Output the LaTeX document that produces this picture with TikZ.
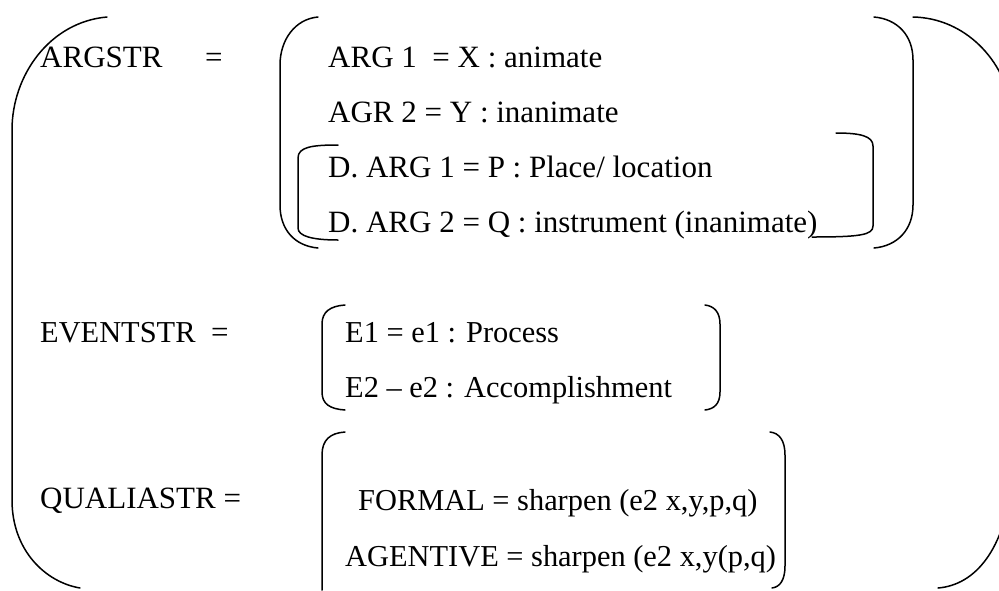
\documentclass[tikz,border=0pt]{standalone}
\usepackage{fontspec}
\setmainfont{Liberation Serif}
\begin{document}
\begin{tikzpicture}[x=1pt,y=-1pt,
  txt/.style={anchor=base west,inner sep=0pt,font=\fontsize{31}{36}\selectfont},
  txtev/.style={anchor=base west,inner sep=0pt,font=\fontsize{30.4}{36}\selectfont},
  brk/.style={line width=1.5pt,line cap=round}]
\useasboundingbox (0,0) rectangle (999,590);
% texts
\node[txt] (argstr) at (40,67) {ARGSTR};
\node[txt] (eq1) at (205,67) {=};
\node[txt] (a1) at (328,67) {ARG 1~~= X : animate};
\node[txt] (a2) at (328,122) {AGR 2 = Y : inanimate};
\node[txt] (d1) at (328,177) {D. ARG 1 = P : Place/ location};
\node[txt] (d2) at (328,232) {D. ARG 2 = Q : instrument (inanimate)};
\node[txtev] (evstr) at (40,342) {EVENTSTR};
\node[txt] (eq2) at (211,342) {=};
\node[txtev] (e1) at (345,342) {E1 = e1 : Process};
\node[txtev] (e2) at (345,397) {E2 – e2 : Accomplishment};
\node[txt] (qstr) at (40,508) {QUALIASTR =};
\node[txtev] (f1) at (358,510) {FORMAL = sharpen (e2 x,y,p,q)};
\node[txtev] (f2) at (345,566) {AGENTIVE = sharpen (e2 x,y(p,q)};
% outer bracket
\begin{scope}
\clip (0,0) rectangle (999,590);
\draw[brk] (107,17) .. controls (50,22) and (12,75) .. (12,130) -- (12,500)
  .. controls (12,550) and (45,582) .. (80,588);
\draw[brk] (913,17) .. controls (965,18) and (1005,60) .. (1012,110) -- (1012,480)
  .. controls (1005,550) and (975,585) .. (938,588);
\end{scope}
% ARGSTR inner bracket
\draw[brk] (318,17) .. controls (295,19) and (280,40) .. (280,65) -- (280,205)
  .. controls (280,230) and (295,246) .. (318,248);
\draw[brk] (874,17) .. controls (897,19) and (913,35) .. (913,60) -- (913,205)
  .. controls (913,230) and (897,246) .. (874,248);
% D.ARG bracket
\draw[brk] (338,145) .. controls (312,145) and (298,147) .. (298,158) -- (298,228)
  .. controls (298,236) and (312,240) .. (338,240);
\draw[brk] (836,133) .. controls (860,133) and (873,136) .. (873,146) -- (873,226)
  .. controls (873,235) and (860,237) .. (812,237);
% EVENT bracket
\draw[brk] (345,305) .. controls (330,306) and (322,312) .. (322,324) -- (322,392)
  .. controls (322,404) and (330,409) .. (345,410);
\draw[brk] (705,305) .. controls (714,306) and (720,312) .. (720,324) -- (720,392)
  .. controls (720,404) and (714,409) .. (705,410);
% QUALIA bracket
\draw[brk] (345,432) .. controls (330,433) and (322,440) .. (322,455) -- (322,590);
\draw[brk] (770,432) .. controls (779,433) and (785,440) .. (785,455) -- (785,566)
  .. controls (785,580) and (780,587) .. (772,588);
\end{tikzpicture}
\end{document}
